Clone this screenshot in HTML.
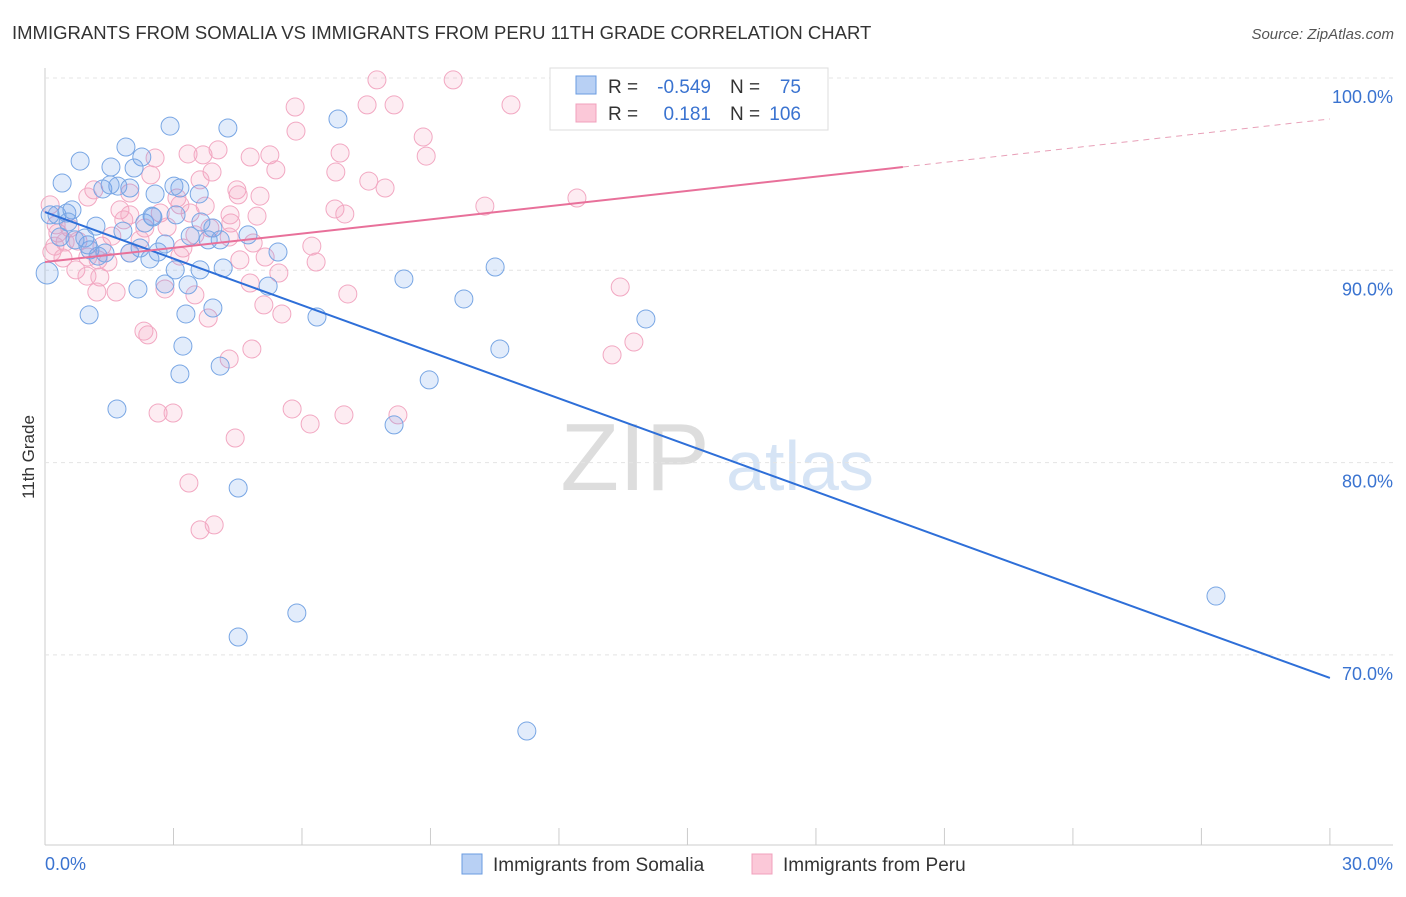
<!DOCTYPE html>
<html><head><meta charset="utf-8"><style>
body{margin:0;background:#fff;font-family:"Liberation Sans",sans-serif}
svg text{font-family:"Liberation Sans",sans-serif}
</style></head><body>
<svg id="c" width="1406" height="892">
<text x="12" y="39" font-size="18.5" fill="#333">IMMIGRANTS FROM SOMALIA VS IMMIGRANTS FROM PERU 11TH GRADE CORRELATION CHART</text>
<text x="1394" y="39" font-size="15" fill="#555" font-style="italic" text-anchor="end">Source: ZipAtlas.com</text>
<text transform="translate(34,457) rotate(-90)" font-size="17" fill="#333" text-anchor="middle">11th Grade</text>
<g><text x="635" y="490" font-size="96" fill="#ddd" font-family="Liberation Serif" text-anchor="middle">ZIP</text><text x="800" y="490" font-size="70" fill="#d6e4f5" text-anchor="middle">atlas</text></g>
<g id="grid"></g><g id="pts"></g><g id="lines"></g>
<g>
<rect x="550" y="68" width="278" height="62" fill="#fff" stroke="#ddd"/>
<rect x="576" y="76" width="20" height="18" fill="#b8d0f4" stroke="#6a9be0"/>
<rect x="576" y="104" width="20" height="18" fill="#fbc8d8" stroke="#f0a0bc"/>
<text x="608" y="93" font-size="19" fill="#333">R =</text>
<text x="711" y="93" font-size="19" fill="#3a73d0" text-anchor="end">-0.549</text>
<text x="730" y="93" font-size="19" fill="#333">N =</text>
<text x="801" y="93" font-size="19" fill="#3a73d0" text-anchor="end">75</text>
<text x="608" y="120" font-size="19" fill="#333">R =</text>
<text x="711" y="120" font-size="19" fill="#3a73d0" text-anchor="end">0.181</text>
<text x="730" y="120" font-size="19" fill="#333">N =</text>
<text x="801" y="120" font-size="19" fill="#3a73d0" text-anchor="end">106</text>
</g>
<g>
<rect x="462" y="854" width="20" height="20" fill="#b8d0f4" stroke="#6a9be0"/>
<text x="493" y="871" font-size="19" fill="#333">Immigrants from Somalia</text>
<rect x="752" y="854" width="20" height="20" fill="#fbc8d8" stroke="#f0a0bc"/>
<text x="783" y="871" font-size="19" fill="#333">Immigrants from Peru</text>
</g>
</svg>
<script>
const yTicks=[100,90,80,70];
const xTickLabels=["0.0%","30.0%"];
const blueX=[0.82,0.40,0.12,0.28,0.51,0.63,1.19,0.35,0.70,1.05,1.24,1.54,1.89,2.26,2.08,1.35,1.70,1.98,2.57,2.92,3.01,3.60,4.27,6.84,1.00,1.40,2.33,2.52,3.06,1.82,1.98,2.45,2.64,3.39,3.64,3.81,3.92,4.09,4.74,5.44,3.04,3.62,4.16,2.17,2.80,3.34,5.21,3.29,3.92,6.35,1.03,3.22,3.15,4.09,1.68,8.15,8.38,9.78,10.51,10.62,8.97,14.03,4.51,5.88,4.51,11.25,27.34,0.05,0.54,0.93,1.52,2.80,2.22,3.15,2.50];
const blueY=[95.68,94.54,92.88,92.88,92.98,93.14,92.30,91.73,91.58,91.06,90.74,95.37,96.41,95.89,95.32,94.23,94.38,94.28,93.97,97.50,94.38,93.97,97.40,97.87,91.32,90.90,92.46,92.77,92.88,92.04,90.90,90.59,90.95,91.78,92.51,91.58,92.20,91.58,91.84,90.95,90.02,90.02,90.12,89.03,89.29,89.24,89.18,87.73,88.04,87.57,87.68,86.06,84.61,85.02,82.79,81.96,89.55,88.51,90.17,85.91,84.30,87.47,78.68,72.18,70.93,66.04,73.06,89.86,92.51,91.68,94.44,91.37,91.16,94.28,92.82];
const pinkX=[7.75,9.53,12.28,16.34,5.84,7.52,8.15,10.88,5.86,8.83,8.90,6.89,3.34,3.69,4.04,4.79,5.25,2.57,5.39,6.79,7.56,7.94,3.90,3.62,2.47,4.48,4.51,1.14,1.00,1.98,3.08,3.15,6.77,7.00,4.95,4.34,10.27,12.42,1.75,1.84,2.69,1.98,2.33,3.39,3.85,4.30,3.50,3.22,4.86,6.23,6.33,1.98,1.56,0.58,0.77,0.30,0.23,0.16,0.42,1.00,1.24,1.47,0.72,0.98,1.28,1.21,1.66,2.80,3.50,4.79,5.46,5.11,5.53,3.81,7.07,13.43,13.24,13.75,2.31,2.40,4.30,4.83,2.64,2.99,5.77,6.19,6.98,8.24,4.44,3.36,3.62,3.95,0.12,0.26,0.47,1.33,2.22,2.85,3.74,4.32,5.02,5.14,4.55,3.15];
const pinkY=[99.9,99.9,99.9,99.9,98.49,98.60,98.60,98.60,97.24,96.93,95.94,96.10,96.05,96.00,96.26,95.89,96.00,95.84,95.22,95.11,94.64,94.28,95.11,94.70,94.96,94.18,93.92,94.18,93.81,94.02,93.76,93.40,93.19,92.93,92.82,92.46,93.34,93.76,93.14,92.62,92.98,92.88,92.20,92.98,92.20,91.73,91.84,91.16,91.42,91.26,90.43,90.90,91.78,92.20,91.52,91.94,91.26,90.95,90.64,90.69,90.54,90.43,90.02,89.70,89.65,88.87,88.87,89.03,88.72,89.34,89.86,88.20,87.73,87.52,88.77,89.13,85.60,86.27,86.84,86.64,85.39,85.91,82.58,82.58,82.79,82.01,82.48,82.48,81.28,78.94,76.50,76.76,93.40,92.36,91.47,91.26,91.58,92.25,93.34,92.88,93.86,90.69,90.54,90.74];
const blueTrend=[[0,93.03],[30,68.8]];
const pinkTrend=[[0,90.43],[20.03,95.37],[30,97.87]];
const NS="http://www.w3.org/2000/svg";
const X=v=>45+v*42.83, Y=v=>78+(100-v)*19.23;
function mk(t,a,p){const e=document.createElementNS(NS,t);for(const k in a)e.setAttribute(k,a[k]);p.appendChild(e);return e;}
const g=document.getElementById('grid');
mk('line',{x1:45,y1:68,x2:45,y2:845,stroke:'#ccc'},g);
mk('line',{x1:45,y1:845,x2:1393,y2:845,stroke:'#ccc'},g);
for(let i=0;i<=10;i++){const l=mk('line',{x1:X(i*3),y1:845,x2:X(i*3),y2:i==0?845:828,stroke:'#ccc'},g);

}
yTicks.forEach(v=>{const l=mk('line',{x1:45,y1:Y(v),x2:1393,y2:Y(v),stroke:'#e4e4e4','stroke-dasharray':'4,4'},g);


const t=mk('text',{x:1393,y:Y(v)+25,'font-size':18,fill:'#3a73d0','text-anchor':'end'},g);t.textContent=v.toFixed(1)+'%';

});
[[0,'start',45],[1,'end',1393]].forEach(([i,a,x])=>{const t=mk('text',{x:x,y:870,'font-size':18,fill:'#3a73d0','text-anchor':a},g);t.textContent=xTickLabels[i];

});
const p=document.getElementById('pts');
pinkX.forEach((x,i)=>{const c=mk('circle',{cx:X(x),cy:Y(pinkY[i]),r:9,fill:'rgba(245,160,190,0.2)',stroke:'#f2a8c2','stroke-width':1},p);

});
blueX.forEach((x,i)=>{const c=mk('circle',{cx:X(x),cy:Y(blueY[i]),r:i==67?11:9,fill:'rgba(110,160,235,0.2)',stroke:'#78a6e4','stroke-width':1},p);

});
const L=document.getElementById('lines');
const b=mk('line',{x1:X(blueTrend[0][0]),y1:Y(blueTrend[0][1]),x2:X(blueTrend[1][0]),y2:Y(blueTrend[1][1]),stroke:'#2e6fd8','stroke-width':2},L);


const p1=mk('line',{x1:X(pinkTrend[0][0]),y1:Y(pinkTrend[0][1]),x2:X(pinkTrend[1][0]),y2:Y(pinkTrend[1][1]),stroke:'#e8709a','stroke-width':2},L);


const p2=mk('line',{x1:X(pinkTrend[1][0]),y1:Y(pinkTrend[1][1]),x2:X(pinkTrend[2][0]),y2:Y(pinkTrend[2][1]),stroke:'#e8a0b8','stroke-width':1,'stroke-dasharray':'6,5'},L);


</script>
</body></html>
